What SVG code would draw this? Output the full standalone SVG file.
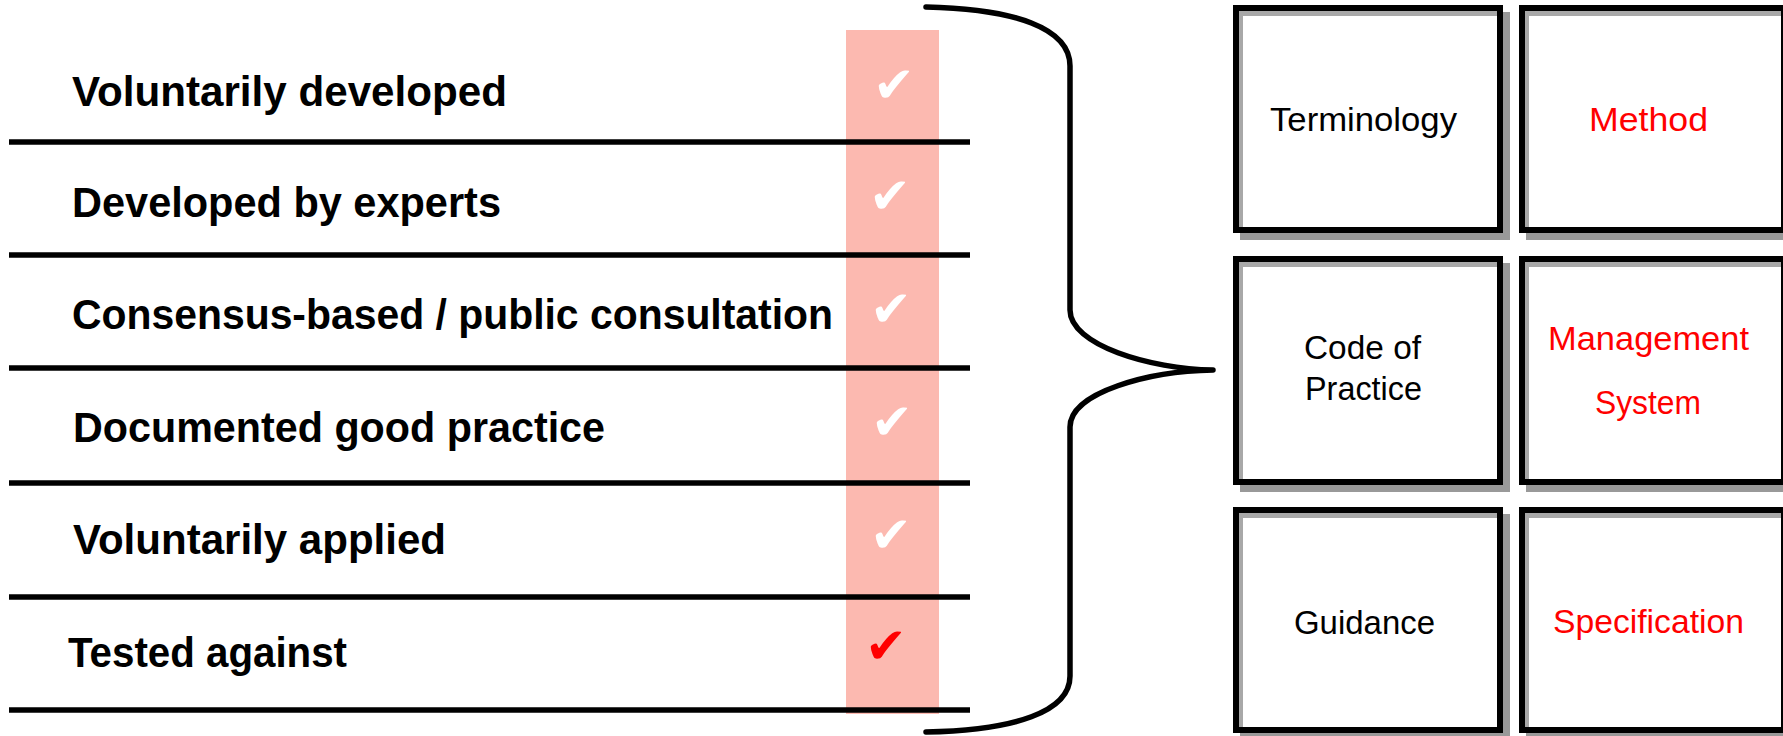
<svg xmlns="http://www.w3.org/2000/svg" width="1783" height="736" viewBox="0 0 1783 736">
<style>
.lbl{font-family:"Liberation Sans",Arial,sans-serif;font-weight:bold;font-size:42px;fill:#000}
.box{font-family:"Liberation Sans",Arial,sans-serif;font-size:34px;fill:#000}
.red{fill:#FF0000}
.chk{font-family:"DejaVu Sans",sans-serif;font-size:50px;fill:#fff;text-anchor:middle}
.rule{stroke:#000;stroke-width:5.5;fill:none}
.shadow{fill:#999}
.face{fill:#fff}
.inner{fill:#A8A8A8}
.frame{fill:none;stroke:#000;stroke-width:6}
.brace{fill:none;stroke:#000;stroke-width:5.5;stroke-linecap:round;stroke-linejoin:round}
</style>
<rect width="1783" height="736" fill="#fff"/>
<rect id="column" x="846" y="30" width="93" height="684" fill="#FCB9B0"/>
<g id="rules">
<line class="rule" x1="9" y1="142" x2="970" y2="142"/>
<line class="rule" x1="9" y1="255" x2="970" y2="255"/>
<line class="rule" x1="9" y1="368" x2="970" y2="368"/>
<line class="rule" x1="9" y1="483" x2="970" y2="483"/>
<line class="rule" x1="9" y1="597" x2="970" y2="597"/>
<line class="rule" x1="9" y1="710" x2="970" y2="710"/>
</g>
<g id="row1"><text class="lbl" x="72" y="106" textLength="435" lengthAdjust="spacingAndGlyphs">Voluntarily developed</text><text class="chk" x="894" y="102">✔</text></g>
<g id="row2"><text class="lbl" x="72" y="217" textLength="429" lengthAdjust="spacingAndGlyphs">Developed by experts</text><text class="chk" x="890" y="213">✔</text></g>
<g id="row3"><text class="lbl" x="72" y="329" textLength="761" lengthAdjust="spacingAndGlyphs">Consensus-based / public consultation</text><text class="chk" x="891" y="326">✔</text></g>
<g id="row4"><text class="lbl" x="73" y="442" textLength="532" lengthAdjust="spacingAndGlyphs">Documented good practice</text><text class="chk" x="892" y="439">✔</text></g>
<g id="row5"><text class="lbl" x="73" y="554" textLength="373" lengthAdjust="spacingAndGlyphs">Voluntarily applied</text><text class="chk" x="891" y="552">✔</text></g>
<g id="row6"><text class="lbl" x="68" y="667" textLength="279" lengthAdjust="spacingAndGlyphs">Tested against</text><text class="chk" x="886" y="663" style="fill:#FF0000">✔</text></g>
<g id="connectors">
<path class="brace" d="M926,7 C1015,9 1070,28 1070,66 L1070,310 C1070,345 1150,369 1213,370 C1150,371 1070,392 1070,427 L1070,676 C1070,712 1015,730 926,732"/>
</g>
<g id="box-terminology">
<rect class="shadow" x="1240" y="12" width="270" height="228"/>
<rect class="face" x="1233" y="5" width="270" height="228"/>
<rect class="inner" x="1239" y="11" width="258" height="5"/>
<rect class="inner" x="1239" y="11" width="4" height="216"/>
<rect class="frame" x="1236" y="8" width="264" height="222"/>
<text class="box" x="1270" y="131" textLength="187" lengthAdjust="spacingAndGlyphs">Terminology</text>
</g>
<g id="box-method">
<rect class="shadow" x="1526" y="12" width="268" height="228"/>
<rect class="face" x="1519" y="5" width="268" height="228"/>
<rect class="inner" x="1525" y="11" width="256" height="5"/>
<rect class="inner" x="1525" y="11" width="4" height="216"/>
<rect class="frame" x="1522" y="8" width="262" height="222"/>
<text class="box red" x="1589" y="131" textLength="119" lengthAdjust="spacingAndGlyphs">Method</text>
</g>
<g id="box-code-of-practice">
<rect class="shadow" x="1240" y="263" width="270" height="229"/>
<rect class="face" x="1233" y="256" width="270" height="229"/>
<rect class="inner" x="1239" y="262" width="258" height="5"/>
<rect class="inner" x="1239" y="262" width="4" height="217"/>
<rect class="frame" x="1236" y="259" width="264" height="223"/>
<text class="box" x="1304" y="359" textLength="117" lengthAdjust="spacingAndGlyphs">Code of</text>
<text class="box" x="1305" y="400" textLength="117" lengthAdjust="spacingAndGlyphs">Practice</text>
</g>
<g id="box-management-system">
<rect class="shadow" x="1526" y="263" width="268" height="229"/>
<rect class="face" x="1519" y="256" width="268" height="229"/>
<rect class="inner" x="1525" y="262" width="256" height="5"/>
<rect class="inner" x="1525" y="262" width="4" height="217"/>
<rect class="frame" x="1522" y="259" width="262" height="223"/>
<text class="box red" x="1548" y="350" textLength="201" lengthAdjust="spacingAndGlyphs">Management</text>
<text class="box red" x="1595" y="414" textLength="106" lengthAdjust="spacingAndGlyphs">System</text>
</g>
<g id="box-guidance">
<rect class="shadow" x="1240" y="514" width="270" height="226"/>
<rect class="face" x="1233" y="507" width="270" height="226"/>
<rect class="inner" x="1239" y="513" width="258" height="5"/>
<rect class="inner" x="1239" y="513" width="4" height="214"/>
<rect class="frame" x="1236" y="510" width="264" height="220"/>
<text class="box" x="1294" y="634" textLength="141" lengthAdjust="spacingAndGlyphs">Guidance</text>
</g>
<g id="box-specification">
<rect class="shadow" x="1526" y="514" width="268" height="226"/>
<rect class="face" x="1519" y="507" width="268" height="226"/>
<rect class="inner" x="1525" y="513" width="256" height="5"/>
<rect class="inner" x="1525" y="513" width="4" height="214"/>
<rect class="frame" x="1522" y="510" width="262" height="220"/>
<text class="box red" x="1553" y="633" textLength="191" lengthAdjust="spacingAndGlyphs">Specification</text>
</g>
</svg>
